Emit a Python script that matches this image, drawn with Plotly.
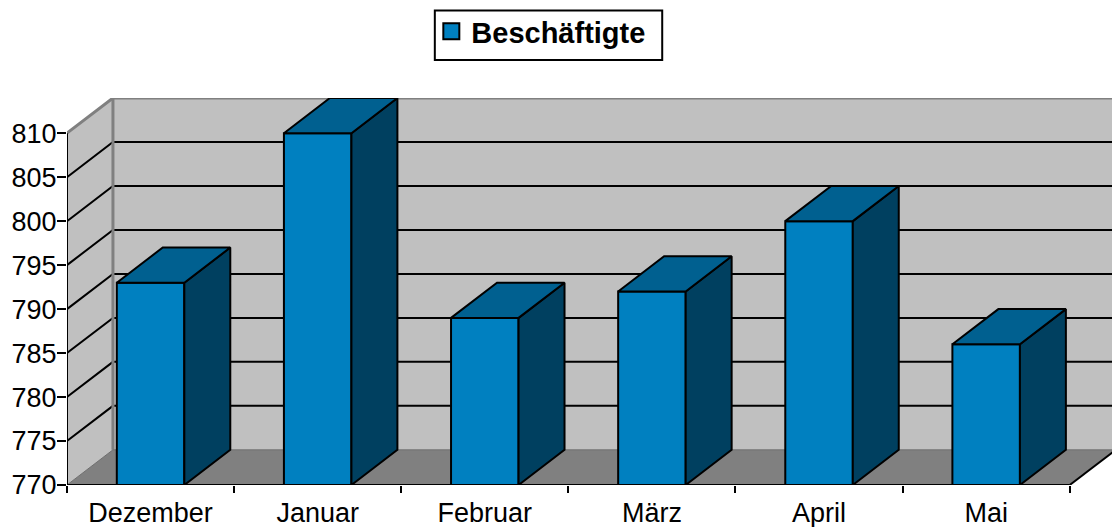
import plotly.graph_objects as go

categories = ["Dezember", "Januar", "Februar", "März", "April", "Mai"]
values = [793, 810, 789, 792, 800, 786]
y_ticks = [770, 775, 780, 785, 790, 795, 800, 805, 810]
series_name = "Beschäftigte"

Y0, Y1 = 770, 810
DX, DY = 0.275, 4.0      # 3D depth, in axis units
BW = 0.404               # bar width, in category units
X0, X1 = -0.5, 5.5
FRONT, TOP, SIDE = "#0080C0", "#006090", "#004060"
WALL, FLOOR, EDGE = "#C0C0C0", "#808080", "#808080"
FONT = "Liberation Sans, Arial, sans-serif"
PLOT_L, PLOT_W, PLOT_T, PLOT_H = 66.5, 1045.5, 98, 387


def px(x):
    return (x - PLOT_L) / PLOT_W


def py(y):
    return (PLOT_T + PLOT_H - y) / PLOT_H


def poly(xs, ys, fill):
    return go.Scatter(x=xs, y=ys, mode="lines", fill="toself", fillcolor=fill,
                      line=dict(color=fill, width=0), hoverinfo="skip", showlegend=False)


def path(xs, ys, color="black", width=2, clip=True, **kw):
    return go.Scatter(x=xs, y=ys, mode="lines", line=dict(color=color, width=width),
                      hoverinfo="skip", showlegend=False, cliponaxis=clip, **kw)


fig = go.Figure()
# walls and floor
fig.add_trace(poly([X0 + DX, X1 + DX, X1 + DX, X0 + DX, X0 + DX],
                   [Y0 + DY, Y0 + DY, Y1 + DY, Y1 + DY, Y0 + DY], WALL))
fig.add_trace(poly([X0, X0 + DX, X0 + DX, X0, X0], [Y0, Y0 + DY, Y1 + DY, Y1, Y0], WALL))
fig.add_trace(poly([X0, X1, X1 + DX, X0 + DX, X0], [Y0, Y0, Y0 + DY, Y0 + DY, Y0], FLOOR))
# gridlines
gx, gy = [], []
for t in y_ticks[1:-1]:
    gx += [X0, X0 + DX, X1 + DX, None]
    gy += [t, t + DY, t + DY, None]
fig.add_trace(path(gx, gy))
# wall edges
fig.add_trace(path([X0, X0 + DX, X1 + DX], [Y1, Y1 + DY, Y1 + DY], EDGE, 3, False))
fig.add_trace(path([X0 + DX, X0 + DX], [Y0 + DY, Y1 + DY], EDGE, 3))
fig.add_trace(path([X0, X0 + DX, X1 + DX], [Y0, Y0 + DY, Y0 + DY], "#6E6E6E", 1))
fig.add_trace(path([X1, X1 + DX], [Y0, Y0 + DY]))

# bars: front faces (on an overlaying pair of axes, so they sit above the walls)
fig.add_trace(go.Bar(x=list(range(len(categories))), y=[v - Y0 for v in values], base=Y0,
                     width=BW, marker=dict(color=FRONT, line=dict(color="black", width=2)),
                     showlegend=False, cliponaxis=False, hoverinfo="skip",
                     xaxis="x2", yaxis="y2"))
# bars: side and top faces, derived from the values
sx, sy, tx, ty = [], [], [], []
for i, v in enumerate(values):
    l, r = i - BW / 2, i + BW / 2
    sx += [r, r + DX, r + DX, r, r, None]
    sy += [Y0, Y0 + DY, v + DY, v, Y0, None]
    tx += [l, r, r + DX, l + DX, l, None]
    ty += [v, v, v + DY, v + DY, v, None]
fig.add_trace(go.Scatter(x=sx, y=sy, mode="lines", fill="toself", fillcolor=SIDE,
                         line=dict(color="black", width=2), hoverinfo="skip",
                         showlegend=False, cliponaxis=False, xaxis="x2", yaxis="y2"))
fig.add_trace(go.Scatter(x=tx, y=ty, mode="lines", fill="toself", fillcolor=TOP,
                         line=dict(color="black", width=2), hoverinfo="skip",
                         showlegend=False, cliponaxis=False, xaxis="x2", yaxis="y2"))

# front axis lines
fig.add_trace(path([X0, X0], [Y0, Y1], clip=False, xaxis="x2", yaxis="y2"))
fig.add_trace(path([X0, X1], [Y0, Y0], clip=False, xaxis="x2", yaxis="y2"))

# legend entry
fig.add_trace(go.Scatter(x=[None], y=[None], mode="markers", name=series_name,
                         marker=dict(symbol="square", size=17, color=FRONT,
                                     line=dict(color="black", width=2))))

xrange_ = [X0, X0 + 1045.5 / 167.2]
yrange_ = [Y0, Y1 + DY]
fig.update_layout(
    width=1112, height=527, autosize=False,
    margin=dict(l=PLOT_L, r=0, t=PLOT_T, b=42),
    paper_bgcolor="white", plot_bgcolor="white",
    font=dict(family=FONT, size=26, color="black"),
    showlegend=True,
    legend=dict(x=px(436), y=py(6), yref="paper", xref="paper",
                xanchor="left", yanchor="top", indentation=-5,
                bgcolor="rgba(0,0,0,0)", borderwidth=0,
                font=dict(size=29, family=FONT, weight="bold"),
                itemclick=False, itemdoubleclick=False),
    # legend frame
    shapes=[dict(type="rect", xref="paper", yref="paper", x0=px(434.5), x1=px(662),
                 y0=py(60), y1=py(10.5), fillcolor="white",
                 line=dict(color="black", width=2))],
    xaxis=dict(range=xrange_, tickmode="array",
               tickvals=list(range(len(categories))), ticktext=categories,
               ticks="", showgrid=False, zeroline=False, showline=False,
               ticklabelstandoff=9, tickfont=dict(size=27),
               minor=dict(tickmode="array", tickvals=[X0 + i for i in range(7)],
                          ticks="outside", ticklen=7, tickwidth=2, tickcolor="black",
                          showgrid=False)),
    yaxis=dict(range=yrange_, tickmode="array", tickvals=y_ticks,
               ticks="outside", ticklen=9, tickwidth=2, tickcolor="black",
               ticklabelstandoff=-5, tickfont=dict(size=27),
               showgrid=False, zeroline=False, showline=False),
    xaxis2=dict(range=xrange_, overlaying="x", visible=False),
    yaxis2=dict(range=yrange_, overlaying="y", visible=False),
)

fig.write_html("out.html", config=dict(displayModeBar=False),
               post_script="document.body.style.margin='0';")
